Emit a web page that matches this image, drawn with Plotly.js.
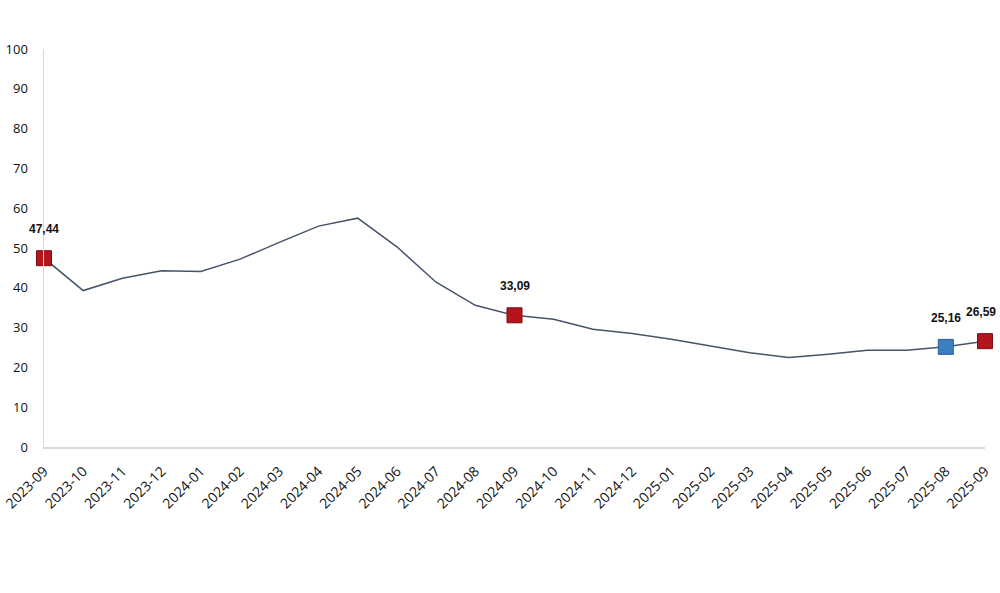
<!DOCTYPE html>
<html>
<head>
<meta charset="utf-8">
<script src="https://cdn.plot.ly/plotly-3.0.1.min.js"></script>
<style>
  html, body { margin: 0; padding: 0; background: #fff; }
  #chart { width: 1000px; height: 593px; }
</style>
</head>
<body>
<div id="chart"></div>
<script>
// monthly series
const months = ["2023-09", "2023-10", "2023-11", "2023-12", "2024-01", "2024-02", "2024-03",
                "2024-04", "2024-05", "2024-06", "2024-07", "2024-08", "2024-09", "2024-10",
                "2024-11", "2024-12", "2025-01", "2025-02", "2025-03", "2025-04", "2025-05",
                "2025-06", "2025-07", "2025-08", "2025-09"];
const values = [47.44, 39.3, 42.4, 44.3, 44.1, 47.2, 51.4,
                55.5, 57.5, 50.3, 41.4, 35.6, 33.09, 32.1,
                29.6, 28.5, 27.1, 25.4, 23.7, 22.5, 23.3,
                24.3, 24.3, 25.16, 26.59];

// highlighted points
const red_months = ["2023-09", "2024-09", "2025-09"];
const blue_months = ["2025-08"];

const y_ticks = [0, 10, 20, 30, 40, 50, 60, 70, 80, 90, 100];

function value_of(m) {
    return values[months.indexOf(m)];
}

function fmt(v) {
    return v.toFixed(2).replace(".", ",");
}

let line_trace = {
    x: months,
    y: values,
    mode: 'lines',
    line: {color: '#44546a', width: 1.5},
    hoverinfo: 'skip',
    cliponaxis: false,
    type: 'scatter'
};

function marker_trace(ms, fill, edge) {
    return {
        x: ms,
        y: ms.map(value_of),
        mode: 'markers',
        marker: {symbol: 'square', size: 15, color: fill, line: {color: edge, width: 1}},
        cliponaxis: false,
        type: 'scatter'
    };
}

let labelled = red_months.concat(blue_months);
let annotations = labelled.map((m) => ({
    x: m,
    y: value_of(m),
    text: '<b>' + fmt(value_of(m)) + '</b>',
    showarrow: false,
    yshift: 29,
    xshift: m === "2025-09" ? -4 : 0,
    font: {family: 'Liberation Sans, Arial, sans-serif', size: 12, color: '#111'}
}));

let layout = {
    width: 1000,
    height: 593,
    margin: {l: 44, r: 15, t: 49, b: 146},
    paper_bgcolor: '#fff',
    plot_bgcolor: '#fff',
    showlegend: false,
    separators: ',.',
    xaxis: {
        type: 'category',
        range: [0, months.length - 1],
        showgrid: false,
        zeroline: false,
        showline: true,
        linecolor: '#d9d9d9',
        linewidth: 1.5,
        ticks: '',
        tickangle: -45,
        ticklabelstandoff: 9,
        tickfont: {family: 'Open Sans, sans-serif', size: 14, color: '#111'},
        automargin: false
    },
    yaxis: {
        range: [0, 100],
        tickvals: y_ticks,
        showgrid: false,
        zeroline: false,
        showline: true,
        linecolor: '#d9d9d9',
        linewidth: 1.5,
        ticks: '',
        ticklabelstandoff: 12,
        tickfont: {family: 'Open Sans, sans-serif', size: 13, color: '#111'},
        automargin: false
    },
    annotations: annotations
};

Plotly.newPlot('chart', [
    line_trace,
    marker_trace(red_months, '#b4151d', '#7a0d12'),
    marker_trace(blue_months, '#3b7fc1', '#2a5f95')
], layout, {staticPlot: true});
</script>
</body>
</html>
